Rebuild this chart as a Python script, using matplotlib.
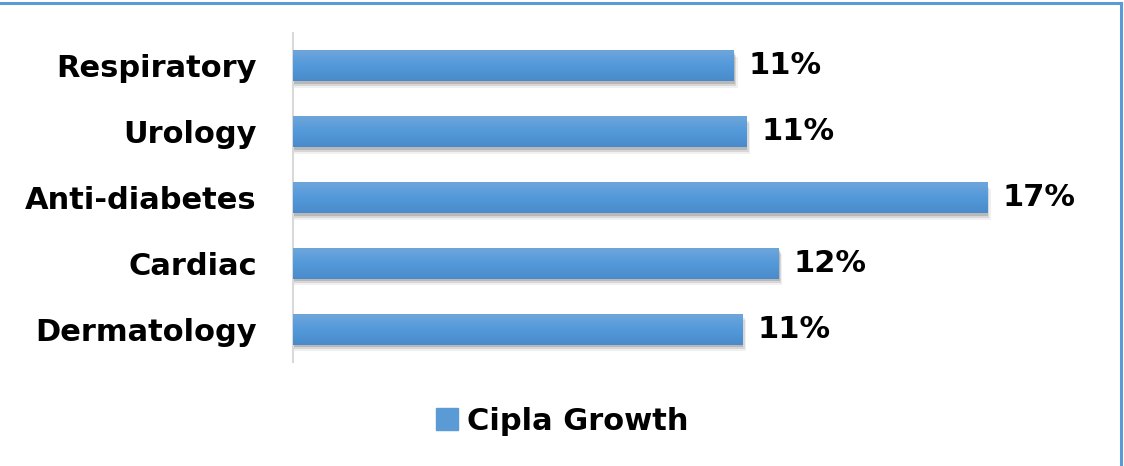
import matplotlib
matplotlib.use("Agg")
import matplotlib.pyplot as plt
import numpy as np
from matplotlib.lines import Line2D
from matplotlib.patches import Rectangle
from matplotlib.colors import LinearSegmentedColormap
import matplotlib.transforms as mtransforms

categories = ["Respiratory", "Urology", "Anti-diabetes", "Cardiac", "Dermatology"]
values = [10.8, 11.1, 17.0, 11.9, 11.0]
series_name = "Cipla Growth"

FONT = "DejaVu Sans"
FS = 22
W, H = 1124, 466
fig = plt.figure(figsize=(W / 100, H / 100), dpi=100)
fig.patch.set_facecolor("white")

ax_left, ax_right = 293, 293 + 694 * 20 / 17
ax_top, ax_bot = 33, 362
ax = fig.add_axes([ax_left / W, 1 - ax_bot / H, (ax_right - ax_left) / W, (ax_bot - ax_top) / H])

n = len(categories)
ypos = np.arange(n)[::-1]  # first category on top
bh = 0.47

# soft drop shadows
for dx, dy, a in [(0.03, 0.04, 0.14), (0.06, 0.07, 0.10), (0.09, 0.10, 0.06)]:
    ax.barh(ypos - dy, [v + dx for v in values], height=bh, left=0, color="#000000",
            alpha=a, linewidth=0, zorder=1)

bars = ax.barh(ypos, values, height=bh, color="#5B9BD5", linewidth=0, zorder=2)

cmap = LinearSegmentedColormap.from_list("g", ["#6EA6DC", "#5399DA", "#4A8ACA"])
grad = np.linspace(0, 1, 64).reshape(-1, 1)
for b in bars:
    x0, y0 = b.get_x(), b.get_y()
    w, h = b.get_width(), b.get_height()
    im = ax.imshow(grad, cmap=cmap, aspect="auto", extent=(x0, x0 + w, y0, y0 + h),
                   origin="upper", zorder=3, interpolation="bilinear")
    im.set_clip_path(b)

ax.set_xlim(0, 20)
ax.set_ylim(-0.5, n - 0.5)
ax.set_yticks(ypos)
ax.set_yticklabels(categories, fontsize=FS, fontweight="bold", fontfamily=FONT, color="black")
ax.tick_params(axis="y", length=0, pad=26)
ax.set_xticks([])
for s in ["top", "right", "bottom"]:
    ax.spines[s].set_visible(False)
ax.spines["left"].set_color("#D9D9D9")
ax.spines["left"].set_linewidth(1.5)
ax.set_facecolor("none")

offset = mtransforms.offset_copy(ax.transData, fig=fig, x=15 * 0.72, y=0, units="points")
for y, v in zip(ypos, values):
    ax.text(v, y, f"{v:.0f}%", transform=offset, ha="left", va="center",
            fontsize=FS, fontweight="bold", fontfamily=FONT, color="black", clip_on=False)

handle = Rectangle((0, 0), 1, 1, color="#5B9BD5")
leg = fig.legend([handle], [series_name], loc="center", bbox_to_anchor=(562 / W, 1 - 421 / H),
                 frameon=False, handlelength=0.72, handleheight=0.72, handletextpad=0.3,
                 prop={"family": FONT, "weight": "bold", "size": FS})

fig.add_artist(Line2D([0, 1121 / W], [1 - 3 / H, 1 - 3 / H], color="#5B9BD5", linewidth=2.2,
                      transform=fig.transFigure))
fig.add_artist(Line2D([1121 / W, 1121 / W], [0, 1 - 3 / H], color="#5B9BD5", linewidth=2.2,
                      transform=fig.transFigure))

fig.savefig("out.png", dpi=100, facecolor="white")
